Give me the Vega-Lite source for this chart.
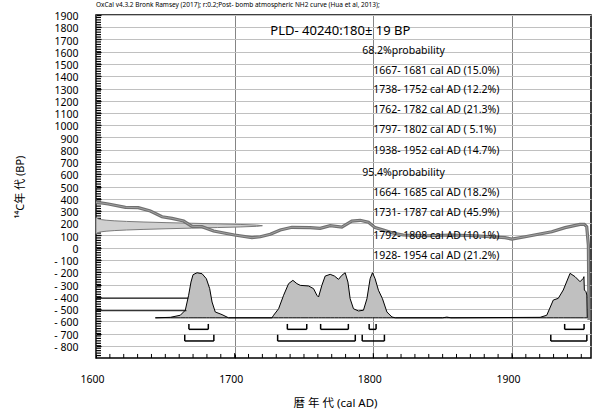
{
  "$schema": "https://vega.github.io/schema/vega-lite/v6.json",
  "width": 495,
  "height": 343,
  "autosize": {"type": "none"},
  "padding": {"left": 96, "top": 15, "right": 13, "bottom": 54},
  "background": "white",
  "title": {
    "text": "OxCal v4.3.2 Bronk Ramsey (2017); r:0.2;Post- bomb atmospheric NH2 curve (Hua et al, 2013);",
    "anchor": "start",
    "frame": "group",
    "fontSize": 6.5,
    "fontWeight": "normal",
    "color": "black",
    "offset": 3
  },
  "config": {
    "font": "'Noto Sans', 'Noto Sans CJK JP', sans-serif",
    "view": {"stroke": "black", "strokeWidth": 1.5},
    "axis": {"labelColor": "black", "titleColor": "black", "labelFont": "'Noto Sans', 'Noto Sans CJK JP', sans-serif", "titleFont": "'Noto Sans', 'Noto Sans CJK JP', sans-serif"}
  },
  "datasets": {
    "curve": [
      {"yr": 1600, "v": 372}, {"yr": 1608.9, "v": 357}, {"yr": 1621.2, "v": 330}, {"yr": 1630.5, "v": 327},
      {"yr": 1639.2, "v": 300}, {"yr": 1647.6, "v": 253}, {"yr": 1654.8, "v": 240}, {"yr": 1663.2, "v": 218},
      {"yr": 1669.2, "v": 175}, {"yr": 1676.4, "v": 172}, {"yr": 1684.8, "v": 137}, {"yr": 1693.2, "v": 118},
      {"yr": 1699.9, "v": 104}, {"yr": 1712.5, "v": 82}, {"yr": 1718.5, "v": 90}, {"yr": 1725.7, "v": 110},
      {"yr": 1732.9, "v": 145}, {"yr": 1741.3, "v": 167}, {"yr": 1754.5, "v": 164}, {"yr": 1761.7, "v": 159},
      {"yr": 1768.9, "v": 180}, {"yr": 1777.3, "v": 169}, {"yr": 1784.5, "v": 218}, {"yr": 1790.5, "v": 224},
      {"yr": 1796.5, "v": 208}, {"yr": 1801.3, "v": 164}, {"yr": 1807.3, "v": 145}, {"yr": 1814.5, "v": 118},
      {"yr": 1821.7, "v": 104}, {"yr": 1838.6, "v": 98}, {"yr": 1856.6, "v": 104}, {"yr": 1873.4, "v": 98},
      {"yr": 1895.0, "v": 82}, {"yr": 1899.9, "v": 71}, {"yr": 1909.5, "v": 90}, {"yr": 1919.0, "v": 110},
      {"yr": 1928.7, "v": 131}, {"yr": 1938.3, "v": 164}, {"yr": 1949.1, "v": 191}, {"yr": 1952.2, "v": 191},
      {"yr": 1953.9, "v": 172}, {"yr": 1955.1, "v": 22}, {"yr": 1955.6, "v": -590}
    ],
    "ranges": [
      {"yr": 1667, "to": 1681, "v": -666, "top": -622}, {"yr": 1738, "to": 1752, "v": -666, "top": -622},
      {"yr": 1762, "to": 1782, "v": -666, "top": -622}, {"yr": 1797, "to": 1802, "v": -666, "top": -622},
      {"yr": 1938, "to": 1952, "v": -666, "top": -622},
      {"yr": 1664, "to": 1685, "v": -761, "top": -710}, {"yr": 1731, "to": 1787, "v": -761, "top": -710},
      {"yr": 1792, "to": 1808, "v": -761, "top": -710}, {"yr": 1928, "to": 1954, "v": -761, "top": -710}
    ],
    "xticks": [
      {"yr": 1610, "v": -900, "top": -867}, {"yr": 1620, "v": -900, "top": -867}, {"yr": 1630, "v": -900, "top": -867},
      {"yr": 1640, "v": -900, "top": -867}, {"yr": 1650, "v": -900, "top": -867}, {"yr": 1660, "v": -900, "top": -867},
      {"yr": 1670, "v": -900, "top": -867}, {"yr": 1680, "v": -900, "top": -867}, {"yr": 1690, "v": -900, "top": -867},
      {"yr": 1700, "v": -900, "top": -860}, {"yr": 1710, "v": -900, "top": -867}, {"yr": 1720, "v": -900, "top": -867},
      {"yr": 1730, "v": -900, "top": -867}, {"yr": 1740, "v": -900, "top": -867}, {"yr": 1750, "v": -900, "top": -867},
      {"yr": 1760, "v": -900, "top": -867}, {"yr": 1770, "v": -900, "top": -867}, {"yr": 1780, "v": -900, "top": -867},
      {"yr": 1790, "v": -900, "top": -867}, {"yr": 1800, "v": -900, "top": -860}, {"yr": 1810, "v": -900, "top": -867},
      {"yr": 1820, "v": -900, "top": -867}, {"yr": 1830, "v": -900, "top": -867}, {"yr": 1840, "v": -900, "top": -867},
      {"yr": 1850, "v": -900, "top": -867}, {"yr": 1860, "v": -900, "top": -867}, {"yr": 1870, "v": -900, "top": -867},
      {"yr": 1880, "v": -900, "top": -867}, {"yr": 1890, "v": -900, "top": -867}, {"yr": 1900, "v": -900, "top": -860},
      {"yr": 1910, "v": -900, "top": -867}, {"yr": 1920, "v": -900, "top": -867}, {"yr": 1930, "v": -900, "top": -867},
      {"yr": 1940, "v": -900, "top": -867}, {"yr": 1950, "v": -900, "top": -867}
    ],
    "yticks": [
      {"yr": 1600, "yr2": 1603.6, "v": -880}, {"yr": 1600, "yr2": 1603.6, "v": -860}, {"yr": 1600, "yr2": 1603.6, "v": -840}, {"yr": 1600, "yr2": 1603.6, "v": -820}, {"yr": 1600, "yr2": 1603.6, "v": -800},
      {"yr": 1600, "yr2": 1603.6, "v": -780}, {"yr": 1600, "yr2": 1603.6, "v": -760}, {"yr": 1600, "yr2": 1603.6, "v": -740}, {"yr": 1600, "yr2": 1603.6, "v": -720}, {"yr": 1600, "yr2": 1603.6, "v": -700},
      {"yr": 1600, "yr2": 1603.6, "v": -680}, {"yr": 1600, "yr2": 1603.6, "v": -660}, {"yr": 1600, "yr2": 1603.6, "v": -640}, {"yr": 1600, "yr2": 1603.6, "v": -620}, {"yr": 1600, "yr2": 1603.6, "v": -600},
      {"yr": 1600, "yr2": 1603.6, "v": -580}, {"yr": 1600, "yr2": 1603.6, "v": -560}, {"yr": 1600, "yr2": 1603.6, "v": -540}, {"yr": 1600, "yr2": 1603.6, "v": -520}, {"yr": 1600, "yr2": 1603.6, "v": -500},
      {"yr": 1600, "yr2": 1603.6, "v": -480}, {"yr": 1600, "yr2": 1603.6, "v": -460}, {"yr": 1600, "yr2": 1603.6, "v": -440}, {"yr": 1600, "yr2": 1603.6, "v": -420}, {"yr": 1600, "yr2": 1603.6, "v": -400},
      {"yr": 1600, "yr2": 1603.6, "v": -380}, {"yr": 1600, "yr2": 1603.6, "v": -360}, {"yr": 1600, "yr2": 1603.6, "v": -340}, {"yr": 1600, "yr2": 1603.6, "v": -320}, {"yr": 1600, "yr2": 1603.6, "v": -300},
      {"yr": 1600, "yr2": 1603.6, "v": -280}, {"yr": 1600, "yr2": 1603.6, "v": -260}, {"yr": 1600, "yr2": 1603.6, "v": -240}, {"yr": 1600, "yr2": 1603.6, "v": -220}, {"yr": 1600, "yr2": 1603.6, "v": -200},
      {"yr": 1600, "yr2": 1603.6, "v": -180}, {"yr": 1600, "yr2": 1603.6, "v": -160}, {"yr": 1600, "yr2": 1603.6, "v": -140}, {"yr": 1600, "yr2": 1603.6, "v": -120}, {"yr": 1600, "yr2": 1603.6, "v": -100},
      {"yr": 1600, "yr2": 1603.6, "v": -80}, {"yr": 1600, "yr2": 1603.6, "v": -60}, {"yr": 1600, "yr2": 1603.6, "v": -40}, {"yr": 1600, "yr2": 1603.6, "v": -20}, {"yr": 1600, "yr2": 1603.6, "v": 0},
      {"yr": 1600, "yr2": 1603.6, "v": 20}, {"yr": 1600, "yr2": 1603.6, "v": 40}, {"yr": 1600, "yr2": 1603.6, "v": 60}, {"yr": 1600, "yr2": 1603.6, "v": 80}, {"yr": 1600, "yr2": 1603.6, "v": 100},
      {"yr": 1600, "yr2": 1603.6, "v": 120}, {"yr": 1600, "yr2": 1603.6, "v": 140}, {"yr": 1600, "yr2": 1603.6, "v": 160}, {"yr": 1600, "yr2": 1603.6, "v": 180}, {"yr": 1600, "yr2": 1603.6, "v": 200},
      {"yr": 1600, "yr2": 1603.6, "v": 220}, {"yr": 1600, "yr2": 1603.6, "v": 240}, {"yr": 1600, "yr2": 1603.6, "v": 260}, {"yr": 1600, "yr2": 1603.6, "v": 280}, {"yr": 1600, "yr2": 1603.6, "v": 300},
      {"yr": 1600, "yr2": 1603.6, "v": 320}, {"yr": 1600, "yr2": 1603.6, "v": 340}, {"yr": 1600, "yr2": 1603.6, "v": 360}, {"yr": 1600, "yr2": 1603.6, "v": 380}, {"yr": 1600, "yr2": 1603.6, "v": 400},
      {"yr": 1600, "yr2": 1603.6, "v": 420}, {"yr": 1600, "yr2": 1603.6, "v": 440}, {"yr": 1600, "yr2": 1603.6, "v": 460}, {"yr": 1600, "yr2": 1603.6, "v": 480}, {"yr": 1600, "yr2": 1603.6, "v": 500},
      {"yr": 1600, "yr2": 1603.6, "v": 520}, {"yr": 1600, "yr2": 1603.6, "v": 540}, {"yr": 1600, "yr2": 1603.6, "v": 560}, {"yr": 1600, "yr2": 1603.6, "v": 580}, {"yr": 1600, "yr2": 1603.6, "v": 600},
      {"yr": 1600, "yr2": 1603.6, "v": 620}, {"yr": 1600, "yr2": 1603.6, "v": 640}, {"yr": 1600, "yr2": 1603.6, "v": 660}, {"yr": 1600, "yr2": 1603.6, "v": 680}, {"yr": 1600, "yr2": 1603.6, "v": 700},
      {"yr": 1600, "yr2": 1603.6, "v": 720}, {"yr": 1600, "yr2": 1603.6, "v": 740}, {"yr": 1600, "yr2": 1603.6, "v": 760}, {"yr": 1600, "yr2": 1603.6, "v": 780}, {"yr": 1600, "yr2": 1603.6, "v": 800},
      {"yr": 1600, "yr2": 1603.6, "v": 820}, {"yr": 1600, "yr2": 1603.6, "v": 840}, {"yr": 1600, "yr2": 1603.6, "v": 860}, {"yr": 1600, "yr2": 1603.6, "v": 880}, {"yr": 1600, "yr2": 1603.6, "v": 900},
      {"yr": 1600, "yr2": 1603.6, "v": 920}, {"yr": 1600, "yr2": 1603.6, "v": 940}, {"yr": 1600, "yr2": 1603.6, "v": 960}, {"yr": 1600, "yr2": 1603.6, "v": 980}, {"yr": 1600, "yr2": 1603.6, "v": 1000},
      {"yr": 1600, "yr2": 1603.6, "v": 1020}, {"yr": 1600, "yr2": 1603.6, "v": 1040}, {"yr": 1600, "yr2": 1603.6, "v": 1060}, {"yr": 1600, "yr2": 1603.6, "v": 1080}, {"yr": 1600, "yr2": 1603.6, "v": 1100},
      {"yr": 1600, "yr2": 1603.6, "v": 1120}, {"yr": 1600, "yr2": 1603.6, "v": 1140}, {"yr": 1600, "yr2": 1603.6, "v": 1160}, {"yr": 1600, "yr2": 1603.6, "v": 1180}, {"yr": 1600, "yr2": 1603.6, "v": 1200},
      {"yr": 1600, "yr2": 1603.6, "v": 1220}, {"yr": 1600, "yr2": 1603.6, "v": 1240}, {"yr": 1600, "yr2": 1603.6, "v": 1260}, {"yr": 1600, "yr2": 1603.6, "v": 1280}, {"yr": 1600, "yr2": 1603.6, "v": 1300},
      {"yr": 1600, "yr2": 1603.6, "v": 1320}, {"yr": 1600, "yr2": 1603.6, "v": 1340}, {"yr": 1600, "yr2": 1603.6, "v": 1360}, {"yr": 1600, "yr2": 1603.6, "v": 1380}, {"yr": 1600, "yr2": 1603.6, "v": 1400},
      {"yr": 1600, "yr2": 1603.6, "v": 1420}, {"yr": 1600, "yr2": 1603.6, "v": 1440}, {"yr": 1600, "yr2": 1603.6, "v": 1460}, {"yr": 1600, "yr2": 1603.6, "v": 1480}, {"yr": 1600, "yr2": 1603.6, "v": 1500},
      {"yr": 1600, "yr2": 1603.6, "v": 1520}, {"yr": 1600, "yr2": 1603.6, "v": 1540}, {"yr": 1600, "yr2": 1603.6, "v": 1560}, {"yr": 1600, "yr2": 1603.6, "v": 1580}, {"yr": 1600, "yr2": 1603.6, "v": 1600},
      {"yr": 1600, "yr2": 1603.6, "v": 1620}, {"yr": 1600, "yr2": 1603.6, "v": 1640}, {"yr": 1600, "yr2": 1603.6, "v": 1660}, {"yr": 1600, "yr2": 1603.6, "v": 1680}, {"yr": 1600, "yr2": 1603.6, "v": 1700},
      {"yr": 1600, "yr2": 1603.6, "v": 1720}, {"yr": 1600, "yr2": 1603.6, "v": 1740}, {"yr": 1600, "yr2": 1603.6, "v": 1760}, {"yr": 1600, "yr2": 1603.6, "v": 1780}, {"yr": 1600, "yr2": 1603.6, "v": 1800},
      {"yr": 1600, "yr2": 1603.6, "v": 1820}, {"yr": 1600, "yr2": 1603.6, "v": 1840}, {"yr": 1600, "yr2": 1603.6, "v": 1860}, {"yr": 1600, "yr2": 1603.6, "v": 1880}
    ]
  },
  "encoding": {
    "x": {
      "field": "yr",
      "type": "quantitative",
      "scale": {"domain": [1600, 1957], "nice": false, "zero": false},
      "axis": {
        "title": "暦 年 代 (cal AD)",
        "values": [1600, 1700, 1800, 1900],
        "offset": -4,
        "ticks": true,
        "tickSize": 4,
        "tickColor": "black",
        "tickWidth": 1,
        "labelExpr": "'' + datum.value",
        "labelOverlap": false,
        "labelFlush": false,
        "labelFontSize": 10.5,
        "labelPadding": 16,
        "labelOffset": -4,
        "grid": true,
        "gridColor": "#666666",
        "gridWidth": 0.8,
        "domain": false,
        "titleFontSize": 11.5,
        "titleFontWeight": "normal",
        "titleX": 239,
        "titleY": 49,
        "titleBaseline": "middle",
        "titleAlign": "center"
      }
    },
    "y": {
      "field": "v",
      "type": "quantitative",
      "scale": {"domain": [-900, 1900], "nice": false, "zero": false},
      "axis": {
        "title": "¹⁴C年 代  (BP)",
        "values": [-800, -700, -600, -500, -400, -300, -200, -100, 0, 100, 200, 300, 400, 500, 600, 700, 800, 900, 1000, 1100, 1200, 1300, 1400, 1500, 1600, 1700, 1800, 1900],
        "offset": -5,
        "ticks": true,
        "tickSize": 5,
        "tickColor": "black",
        "tickWidth": 1.2,
        "labelExpr": "datum.value < 0 ? '- ' + abs(datum.value) : '' + datum.value",
        "labelOverlap": false,
        "labelFlush": false,
        "labelFontSize": 10.5,
        "labelPadding": 18,
        "labelOffset": 1.5,
        "grid": true,
        "gridColor": "#c0c0c0",
        "gridWidth": 1,
        "domain": false,
        "titleFontSize": 11,
        "titleFontWeight": "normal",
        "titleX": -81,
        "titleY": 171.5,
        "titleBaseline": "middle",
        "titleAlign": "center"
      }
    }
  },
  "layer": [
    {
      "data": {"name": "xticks"},
      "mark": {"type": "rule", "color": "black", "strokeWidth": 1},
      "encoding": {"y2": {"field": "top"}}
    },
    {
      "data": {"name": "yticks"},
      "mark": {"type": "rule", "color": "black", "strokeWidth": 1.2},
      "encoding": {"x2": {"field": "yr2"}}
    },
    {
      "data": {"values": [
        {"v": 115, "yr": 1600.3}, {"v": 120, "yr": 1600.8}, {"v": 125, "yr": 1601.8}, {"v": 130, "yr": 1603.7},
        {"v": 135, "yr": 1607.3}, {"v": 140, "yr": 1613.1}, {"v": 145, "yr": 1622.0}, {"v": 150, "yr": 1634.6},
        {"v": 155, "yr": 1650.5}, {"v": 160, "yr": 1669.0}, {"v": 165, "yr": 1687.8}, {"v": 170, "yr": 1704.5},
        {"v": 175, "yr": 1715.9}, {"v": 180, "yr": 1720.0}, {"v": 185, "yr": 1715.9}, {"v": 190, "yr": 1704.5},
        {"v": 195, "yr": 1687.8}, {"v": 200, "yr": 1669.0}, {"v": 205, "yr": 1650.5}, {"v": 210, "yr": 1634.6},
        {"v": 215, "yr": 1622.0}, {"v": 220, "yr": 1613.1}, {"v": 225, "yr": 1607.3}, {"v": 230, "yr": 1603.7},
        {"v": 235, "yr": 1601.8}, {"v": 240, "yr": 1600.8}, {"v": 245, "yr": 1600.3}
      ]},
      "mark": {"type": "area", "orient": "horizontal", "fill": "#d0d0d0", "stroke": "#7a7a7a", "strokeWidth": 1},
      "encoding": {"x2": {"datum": 1600}}
    },
    {
      "data": {"name": "curve"},
      "mark": {"type": "line", "color": "#707070", "strokeWidth": 3.2},
      "encoding": {}
    },
    {
      "data": {"name": "curve"},
      "mark": {"type": "line", "color": "#a0a0a0", "strokeWidth": 1},
      "encoding": {}
    },
    {
      "data": {"values": [
        {"yr": 1642.8, "v": -572}, {"yr": 1653.6, "v": -568}, {"yr": 1660.8, "v": -551}, {"yr": 1664.4, "v": -510},
        {"yr": 1666.8, "v": -388}, {"yr": 1668.5, "v": -280}, {"yr": 1670.0, "v": -220}, {"yr": 1672.9, "v": -204},
        {"yr": 1676.5, "v": -212}, {"yr": 1679.6, "v": -253}, {"yr": 1682.0, "v": -334}, {"yr": 1683.7, "v": -443},
        {"yr": 1686.0, "v": -524}, {"yr": 1690.9, "v": -546}, {"yr": 1695.6, "v": -572}, {"yr": 1726.9, "v": -572},
        {"yr": 1728.1, "v": -551}, {"yr": 1731.7, "v": -498}, {"yr": 1735.3, "v": -388}, {"yr": 1738.9, "v": -293},
        {"yr": 1742.0, "v": -266}, {"yr": 1744.9, "v": -293}, {"yr": 1747.3, "v": -307}, {"yr": 1753.3, "v": -312},
        {"yr": 1756.9, "v": -334}, {"yr": 1759.3, "v": -388}, {"yr": 1760.5, "v": -402}, {"yr": 1762.9, "v": -307},
        {"yr": 1765.3, "v": -231}, {"yr": 1768.9, "v": -217}, {"yr": 1772.0, "v": -231}, {"yr": 1774.9, "v": -258},
        {"yr": 1777.3, "v": -225}, {"yr": 1779.7, "v": -204}, {"yr": 1781.7, "v": -280}, {"yr": 1783.3, "v": -416},
        {"yr": 1785.7, "v": -498}, {"yr": 1789.3, "v": -516}, {"yr": 1792.9, "v": -510}, {"yr": 1795.4, "v": -416},
        {"yr": 1797.7, "v": -253}, {"yr": 1799.4, "v": -204}, {"yr": 1801.3, "v": -253}, {"yr": 1803.7, "v": -347},
        {"yr": 1806.6, "v": -416}, {"yr": 1809.8, "v": -524}, {"yr": 1813.4, "v": -565}, {"yr": 1815.8, "v": -572},
        {"yr": 1850.0, "v": -572}, {"yr": 1853.0, "v": -566}, {"yr": 1856.0, "v": -572}, {"yr": 1920.3, "v": -568},
        {"yr": 1925.1, "v": -551}, {"yr": 1929.8, "v": -427}, {"yr": 1933.4, "v": -413}, {"yr": 1937.0, "v": -345},
        {"yr": 1941.9, "v": -209}, {"yr": 1945.5, "v": -236}, {"yr": 1949.1, "v": -277}, {"yr": 1951.5, "v": -249},
        {"yr": 1951.9, "v": -236}, {"yr": 1952.2, "v": -345}, {"yr": 1953.4, "v": -359}, {"yr": 1954.0, "v": -386},
        {"yr": 1954.3, "v": -572}
      ]},
      "mark": {"type": "area", "fill": "#c0c0c0", "stroke": "black", "strokeWidth": 1},
      "encoding": {"y2": {"datum": -572}}
    },
    {
      "data": {"values": [{"yr": 1600, "yr2": 1666.5, "v": -412}, {"yr": 1600, "yr2": 1665.2, "v": -514}]},
      "mark": {"type": "rule", "color": "black", "strokeWidth": 1},
      "encoding": {"x2": {"field": "yr2"}}
    },
    {
      "data": {"name": "ranges"},
      "mark": {"type": "rule", "color": "black", "strokeWidth": 1.5},
      "encoding": {"x2": {"field": "to"}}
    },
    {
      "data": {"name": "ranges"},
      "mark": {"type": "rule", "color": "black", "strokeWidth": 1.5},
      "encoding": {"y2": {"field": "top"}}
    },
    {
      "data": {"name": "ranges"},
      "mark": {"type": "rule", "color": "black", "strokeWidth": 1.5},
      "encoding": {"x": {"field": "to", "type": "quantitative"}, "y2": {"field": "top"}}
    },
    {
      "data": {"values": [{"yr": 1725.7, "v": 1769, "t": "PLD- 40240:180± 19 BP"}]},
      "mark": {"type": "text", "align": "left", "baseline": "middle", "fontSize": 13, "color": "black"},
      "encoding": {"text": {"field": "t"}}
    },
    {
      "data": {"values": [
        {"yr": 1792.0, "v": 1606, "t": "68.2%probability"},
        {"yr": 1799.9, "v": 1443, "t": "1667- 1681 cal AD (15.0%)"},
        {"yr": 1799.9, "v": 1288, "t": "1738- 1752 cal AD (12.2%)"},
        {"yr": 1799.9, "v": 1124, "t": "1762- 1782 cal AD (21.3%)"},
        {"yr": 1799.9, "v": 965, "t": "1797- 1802 cal AD ( 5.1%)"},
        {"yr": 1799.9, "v": 790, "t": "1938- 1952 cal AD (14.7%)"},
        {"yr": 1792.0, "v": 610, "t": "95.4%probability"},
        {"yr": 1799.9, "v": 443, "t": "1664- 1685 cal AD (18.2%)"},
        {"yr": 1799.9, "v": 284, "t": "1731- 1787 cal AD (45.9%)"},
        {"yr": 1799.9, "v": 96, "t": "1792- 1808 cal AD (10.1%)"},
        {"yr": 1799.9, "v": -67, "t": "1928- 1954 cal AD (21.2%)"}
      ]},
      "mark": {"type": "text", "align": "left", "baseline": "middle", "fontSize": 10.5, "color": "black"},
      "encoding": {"text": {"field": "t"}}
    }
  ]
}
